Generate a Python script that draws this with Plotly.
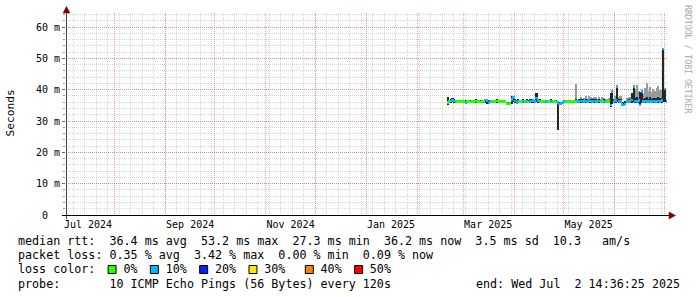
import math
import pandas as pd
import plotly.graph_objects as go

# ---------------- data ----------------
graph_start = pd.Timestamp("2024-07-02 14:36:25")
graph_end = pd.Timestamp("2025-07-02 14:36:25")
first_day = "2025-02-19"

median_ms = [
    36.0, 36.3, 36.4, 36.5, 36.4, 36.3, 36.2, 36.2, 36.3, 36.2,
    36.2, 36.0, 36.2, 36.2, 36.1, 36.2, 36.2, 36.4, 36.2, 36.2,
    36.1, 36.2, 36.2, 36.8, 36.6, 35.8, 36.3, 36.2, 36.2, 36.2,
    36.4, 36.2, 36.2, 36.3, 36.2, 36.2, 35.6, 35.5, 35.6, 36.9,
    37.5, 36.4, 36.0, 36.3, 36.3, 36.2, 36.4, 36.2, 36.3, 36.1,
    36.3, 36.4, 36.5, 36.3, 37.4, 36.5, 36.3, 36.2, 36.2, 36.2,
    36.3, 36.2, 36.2, 36.3, 36.2, 36.2, 36.1, 35.9, 35.5, 35.6,
    35.9, 36.2, 36.3, 36.2, 36.2, 36.2, 36.3, 36.2, 36.3, 36.2,
    36.3, 36.4, 36.3, 36.2, 36.4, 36.3, 36.5, 36.4, 36.3, 36.4,
    36.3, 36.2, 36.4, 36.2, 36.3, 36.3, 36.2, 36.2, 36.2, 35.2,
    39.4, 36.3, 36.5, 41.0, 36.4, 36.3, 35.3, 35.2, 35.5, 36.2,
    36.3, 36.2, 36.8, 41.0, 36.4, 36.3, 36.5, 35.2, 39.5, 36.3,
    36.4, 36.3, 36.2, 36.3, 36.2, 36.4, 36.3, 36.2, 36.4, 36.3,
    36.5, 53.0, 40.3, 36.2,
]

loss_pct = [
    0.0, 0.0, 0.2, 0.3, 0.1, 0.2, 0.0, 0.0, 0.0, 0.0,
    0.0, 0.1, 0.0, 0.0, 0.0, 0.0, 0.0, 0.0, 0.0, 0.0,
    0.0, 0.0, 0.0, 0.2, 0.3, 0.1, 0.1, 0.0, 0.0, 0.0,
    0.0, 0.0, 0.0, 0.0, 0.0, 0.0, 0.0, 0.0, 0.0, 0.3,
    0.4, 0.1, 0.1, 0.2, 0.0, 0.0, 0.2, 0.0, 0.1, 0.0,
    0.2, 0.1, 0.2, 0.1, 0.3, 0.1, 0.2, 0.0, 0.0, 0.0,
    0.1, 0.0, 0.0, 0.1, 0.0, 0.0, 0.0, 0.1, 0.2, 0.3,
    0.2, 0.1, 0.0, 0.0, 0.0, 0.0, 0.0, 0.0, 0.0, 0.1,
    0.2, 0.1, 0.2, 0.1, 0.3, 0.1, 0.2, 0.2, 0.1, 0.2,
    0.1, 0.1, 0.2, 0.0, 0.0, 0.1, 0.1, 0.0, 0.0, 0.3,
    0.3, 0.2, 0.1, 0.4, 0.2, 0.2, 0.3, 0.2, 0.2, 0.1,
    0.1, 0.2, 0.3, 0.4, 0.2, 0.2, 0.1, 0.3, 0.3, 0.2,
    0.2, 0.1, 0.1, 0.2, 0.1, 0.2, 0.1, 0.2, 0.2, 0.1,
    0.2, 0.5, 0.3, 0.1,
]

smoke_lo = [
    35.1, 35.9, 35.9, 36.0, 35.9, 35.9, 35.8, 35.8, 35.9, 35.8,
    35.8, 35.6, 35.8, 35.8, 35.7, 35.8, 35.8, 35.9, 35.8, 35.8,
    35.7, 35.8, 35.8, 35.9, 35.6, 35.4, 35.8, 35.8, 35.8, 35.8,
    35.9, 35.8, 35.8, 35.8, 35.8, 35.8, 35.2, 35.1, 35.2, 35.6,
    36.0, 35.9, 35.6, 35.9, 35.8, 35.8, 35.9, 35.8, 35.8, 35.7,
    35.8, 35.9, 35.9, 35.8, 36.0, 35.9, 35.8, 35.8, 35.8, 35.8,
    35.8, 35.8, 35.8, 35.8, 35.8, 35.8, 35.7, 27.3, 35.1, 35.2,
    35.4, 35.7, 35.8, 35.8, 35.8, 35.8, 35.8, 35.8, 35.8, 35.8,
    35.8, 35.9, 35.8, 35.7, 35.9, 35.8, 35.9, 35.9, 35.8, 35.9,
    35.8, 35.7, 35.9, 35.8, 35.8, 35.8, 35.7, 35.8, 35.8, 34.6,
    35.5, 35.8, 35.9, 36.0, 35.8, 35.8, 35.0, 34.9, 35.1, 35.7,
    35.8, 35.7, 35.9, 36.0, 35.8, 35.8, 35.9, 35.0, 35.8, 35.8,
    35.8, 35.8, 35.7, 35.8, 35.7, 35.8, 35.8, 35.7, 35.8, 35.8,
    35.9, 36.2, 36.0, 35.8,
]

smoke_hi = [
    37.6, 36.8, 37.0, 37.3, 37.2, 36.8, 36.7, 36.7, 36.8, 36.6,
    36.7, 36.6, 36.7, 36.6, 36.6, 36.7, 36.6, 36.9, 36.7, 36.6,
    36.6, 36.7, 36.7, 37.0, 37.1, 36.6, 36.8, 36.7, 36.6, 36.7,
    36.9, 36.7, 36.6, 36.8, 36.7, 36.7, 36.1, 36.0, 36.2, 38.1,
    38.0, 37.0, 36.6, 36.9, 36.8, 36.7, 37.0, 36.7, 36.9, 36.6,
    36.9, 37.0, 37.1, 36.8, 38.9, 37.2, 36.9, 36.7, 36.7, 36.6,
    36.8, 36.7, 36.7, 36.9, 36.7, 36.6, 36.6, 36.1, 36.0, 36.1,
    36.4, 36.8, 36.8, 36.7, 36.7, 36.6, 36.8, 36.7, 36.9, 36.8,
    36.9, 37.0, 36.9, 36.8, 37.1, 36.9, 37.2, 37.0, 36.9, 37.0,
    36.9, 36.8, 37.0, 36.7, 36.8, 36.9, 36.8, 36.7, 36.8, 38.9,
    39.7, 37.2, 37.0, 41.2, 37.0, 36.9, 36.2, 36.0, 36.4, 36.8,
    36.9, 36.8, 39.0, 41.3, 37.4, 37.6, 37.2, 39.4, 39.9, 37.2,
    37.5, 37.8, 37.2, 37.6, 37.2, 37.5, 37.3, 37.4, 37.8, 37.3,
    37.5, 53.2, 40.5, 36.8,
]

smoke_peak = [
    None, None, None, None, None, None, None, None, None, None,
    None, None, None, None, None, None, None, None, None, None,
    None, None, None, None, None, None, None, None, None, None,
    None, None, None, None, None, None, None, None, None, None,
    None, None, None, None, None, None, None, None, None, None,
    None, None, None, None, None, None, None, None, None, None,
    None, None, None, None, None, None, None, None, None, None,
    None, None, None, None, None, None, None, None, 41.9, None,
    37.2, 37.8, 37.0, 37.5, 37.9, 37.2, 38.0, 37.8, 37.3, 37.7,
    37.6, 37.2, 37.8, 37.2, 37.6, 37.5, 37.0, 36.9, 37.4, None,
    None, None, 38.0, None, 37.8, 38.0, None, None, None, 37.4,
    37.6, 37.8, None, None, 40.2, 41.5, 39.5, None, None, 38.5,
    40.5, 42.1, 39.5, 40.8, 39.4, 40.3, 39.6, 40.5, 41.2, 39.8,
    40.0, None, None, None,
]

month_grid = pd.date_range("2024-08-01", "2025-07-01", freq="MS")
label_months = ["2024-07-01", "2024-09-01", "2024-11-01",
                "2025-01-01", "2025-03-01", "2025-05-01"]
label_text = ["Jul 2024", "Sep 2024", "Nov 2024",
              "Jan 2025", "Mar 2025", "May 2025"]
y_tick_vals = [0, 10, 20, 30, 40, 50, 60]
y_tick_text = ["0\u00a0\u00a0", "10 m", "20 m", "30 m", "40 m", "50 m", "60 m"]
y_max = 64.5

loss_levels = ["0%", "10%", "20%", "30%", "40%", "50%"]
loss_colors = ["#26ff00", "#00b8ff", "#0022ff", "#ffe800", "#ff7f00", "#ff0000"]

legend_lines = [
    "median rtt:  36.4 ms avg  53.2 ms max  27.3 ms min  36.2 ms now  3.5 ms sd  10.3   am/s",
    "packet loss: 0.35 % avg  3.42 % max  0.00 % min  0.09 % now",
    "loss color:    0%    10%    20%    30%     40%    50%",
    "probe:       10 ICMP Echo Pings (56 Bytes) every 120s",
]
square_cols = [13, 19, 26, 33, 41, 48]
end_text = "end: Wed Jul  2 14:36:25 2025"

# ---------------- geometry ----------------
W, H = 697, 297
L, R, T, B = 66, 30, 13, 82
PW, PH = W - L - R, H - T - B
MONO = "DejaVu Sans Mono"
LEG_SIZE = 11.7
CHAR_W = 0.6021 * LEG_SIZE


def px(x):
    return (x - L) / PW


def py(y):
    return (H - B - y) / PH


def nb(s):
    return s.replace(" ", "\u00a0")


days = pd.date_range(first_day, periods=len(median_ms), freq="D") + pd.Timedelta(hours=12)
day_ms = 86400000


def loss_color(v):
    if v <= 0:
        return loss_colors[0]
    return loss_colors[min(int(math.ceil(v / 10.0)), 5)]


fig = go.Figure()

fig.add_trace(go.Bar(
    x=days,
    y=[(p - l) if p is not None else None for p, l in zip(smoke_peak, smoke_lo)],
    base=smoke_lo, width=day_ms, marker=dict(color="#9a9a9a", line_width=0),
    xaxis="x", yaxis="y", hoverinfo="skip", showlegend=False))

fig.add_trace(go.Bar(
    x=days, y=[h - l for h, l in zip(smoke_hi, smoke_lo)], base=smoke_lo,
    width=day_ms, marker=dict(color="#262626", line_width=0),
    xaxis="x", yaxis="y", hoverinfo="skip", showlegend=False))

dash_h = 0.8
fig.add_trace(go.Bar(
    x=days, y=[dash_h] * len(median_ms), base=[m - dash_h / 2 for m in median_ms],
    width=day_ms, marker=dict(color=[loss_color(v) for v in loss_pct], line_width=0),
    xaxis="x2", yaxis="y", hoverinfo="skip", showlegend=False))

grid_minor = "rgba(143,143,143,0.36)"
grid_major = "rgba(222,48,51,0.45)"

fig.update_layout(
    width=W, height=H, margin=dict(l=L, r=R, t=T, b=B, pad=0),
    paper_bgcolor="white", plot_bgcolor="white",
    barmode="overlay", bargap=0, showlegend=False,
    xaxis=dict(
        range=[graph_start, graph_end], tickmode="array", tickvals=month_grid,
        showticklabels=False, ticks="", showgrid=True, gridcolor=grid_major,
        griddash="1px,1px", gridwidth=1, zeroline=False, showline=False,
        minor=dict(tickmode="linear", tick0="2024-07-07", dtick=7 * day_ms,
                   showgrid=True, gridcolor=grid_minor, griddash="1px,1px",
                   gridwidth=1, ticks=""),
    ),
    xaxis2=dict(
        overlaying="x", matches="x", anchor="y", side="bottom",
        range=[graph_start, graph_end], tickmode="array",
        tickvals=[pd.Timestamp(m) + pd.Timedelta(days=15) for m in label_months],
        ticktext=label_text, showgrid=False, ticks="", zeroline=False, showline=False,
        tickfont=dict(family=MONO, size=10, color="black"), ticklabelstandoff=2,
    ),
    yaxis=dict(
        range=[0, y_max], tickmode="array", tickvals=y_tick_vals, ticktext=y_tick_text,
        showgrid=True, gridcolor=grid_major, griddash="1px,1px", gridwidth=1,
        zeroline=False, showline=False, ticks="outside", ticklen=3,
        tickcolor="#6a6a6a", tickwidth=1,
        tickfont=dict(family=MONO, size=10, color="black"),
        minor=dict(tickmode="linear", tick0=0, dtick=2, showgrid=True,
                   gridcolor=grid_minor, griddash="1px,1px", gridwidth=1,
                   ticks="outside", ticklen=2, tickcolor="#9a9a9a"),
    ),
)

shapes = []
# axes lines and arrows
shapes.append(dict(type="line", xref="paper", yref="paper",
                   x0=px(66.5), x1=px(66.5), y0=py(219), y1=py(11),
                   line=dict(color="#444444", width=1)))
shapes.append(dict(type="line", xref="paper", yref="paper",
                   x0=px(62), x1=px(670), y0=py(215.5), y1=py(215.5),
                   line=dict(color="black", width=1)))
shapes.append(dict(type="path", xref="paper", yref="paper",
                   path=f"M {px(66.5)},{py(6.5)} L {px(63)},{py(13)} L {px(70)},{py(13)} Z",
                   fillcolor="#7f0000", line=dict(color="#7f0000", width=0.5)))
shapes.append(dict(type="path", xref="paper", yref="paper",
                   path=f"M {px(675.5)},{py(215.5)} L {px(669)},{py(212)} L {px(669)},{py(219)} Z",
                   fillcolor="#7f0000", line=dict(color="#7f0000", width=0.5)))

annotations = []
x_text = 16
line_y = [241, 255, 269, 284]
for txt, yy in zip(legend_lines, line_y):
    annotations.append(dict(xref="paper", yref="paper", x=px(x_text), y=py(yy),
                            xanchor="left", yanchor="middle", showarrow=False,
                            text=nb(txt), font=dict(family=MONO, size=LEG_SIZE, color="black")))
annotations.append(dict(xref="paper", yref="paper", x=px(682), y=py(284),
                        xanchor="right", yanchor="middle", showarrow=False,
                        text=nb(end_text), font=dict(family=MONO, size=LEG_SIZE, color="black")))

# loss colour squares
for col, c in zip(square_cols, loss_colors):
    x0 = x_text + col * CHAR_W
    shapes.append(dict(type="rect", xref="paper", yref="paper",
                       x0=px(x0 + 0.5), x1=px(x0 + 8.5), y0=py(273.5), y1=py(265.5),
                       fillcolor=c, line=dict(color="black", width=1)))

annotations.append(dict(xref="paper", yref="paper", x=px(10), y=py(113.5),
                        xanchor="center", yanchor="middle", showarrow=False, textangle=-90,
                        text="Seconds", font=dict(family=MONO, size=11.2, color="black")))
annotations.append(dict(xref="paper", yref="paper", x=px(688), y=py(59),
                        xanchor="center", yanchor="middle", showarrow=False, textangle=90,
                        text=nb("RRDTOOL / TOBI OETIKER"),
                        font=dict(family=MONO, size=8.2, color="#a8a8a8")))

fig.update_layout(shapes=shapes, annotations=annotations)
fig.write_html("out.html")
